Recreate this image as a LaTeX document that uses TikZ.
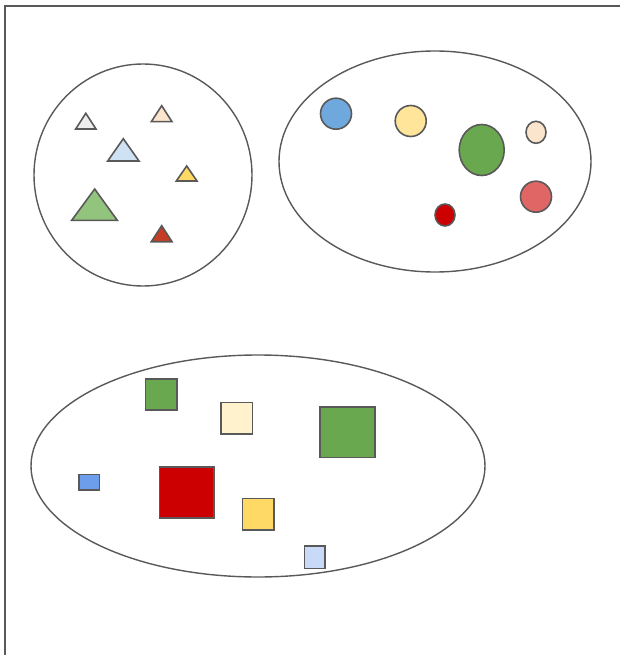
\documentclass[tikz,border=0pt]{standalone}
\usetikzlibrary{shapes.geometric}
\definecolor{edge}{HTML}{595959}
\definecolor{cgray}{HTML}{EEEEEE}
\definecolor{cpeach}{HTML}{FCE5CD}
\definecolor{cltblue}{HTML}{CFE2F3}
\definecolor{cyellow}{HTML}{FFD966}
\definecolor{cltgreen}{HTML}{93C47D}
\definecolor{credtri}{HTML}{C63D26}
\definecolor{cblue}{HTML}{6FA8DC}
\definecolor{cltyellow}{HTML}{FFE599}
\definecolor{cgreen}{HTML}{6AA84F}
\definecolor{cpink}{HTML}{E06666}
\definecolor{cred}{HTML}{CC0000}
\definecolor{ccream}{HTML}{FFF2CC}
\definecolor{csqblue}{HTML}{6D9EEB}
\definecolor{csqlt}{HTML}{C9DAF8}
\begin{document}
\begin{tikzpicture}[x=1pt,y=-1pt,
  group/.style={draw=edge,line width=1.4pt,ellipse,inner sep=0pt},
  blob/.style={draw=edge,line width=1.6pt,ellipse,inner sep=0pt},
  sq/.style={draw=edge,line width=1.6pt,rectangle,inner sep=0pt},
  tri/.style={draw=edge,line width=1.6pt,line join=miter}]
\useasboundingbox (0,0) rectangle (620,655);
\draw[draw=edge,line width=1.5pt] (5,660) -- (5,6) -- (625,6);
% groups
\node[group,minimum width=218pt,minimum height=222pt] (g1) at (143,175) {};
\node[group,minimum width=312pt,minimum height=221pt] (g2) at (435,161.5) {};
\node[group,minimum width=454pt,minimum height=222pt] (g3) at (258,466) {};
% triangles
\draw[tri,fill=cgray] (75.7,129) -- (85.8,113.3) -- (96,129) -- cycle;
\draw[tri,fill=cpeach] (151.3,121.7) -- (161.7,105.7) -- (172,121.7) -- cycle;
\draw[tri,fill=cltblue] (107.7,161) -- (123.3,138.7) -- (139,161) -- cycle;
\draw[tri,fill=cyellow] (176.3,181) -- (186.7,166) -- (197,181) -- cycle;
\draw[tri,fill=cltgreen] (71.7,220.3) -- (94.7,189) -- (117.3,220.3) -- cycle;
\draw[tri,fill=credtri] (151.3,241.7) -- (161.7,225.7) -- (172,241.7) -- cycle;
% circles
\node[blob,fill=cblue,minimum width=31pt,minimum height=31pt] (c1) at (336,113.7) {};
\node[blob,fill=cltyellow,minimum width=31pt,minimum height=31pt] (c2) at (410.7,121) {};
\node[blob,fill=cgreen,minimum width=45pt,minimum height=51pt] (c3) at (481.7,150) {};
\node[blob,fill=cpeach,minimum width=20pt,minimum height=22pt] (c4) at (536,132.3) {};
\node[blob,fill=cpink,minimum width=31pt,minimum height=31pt] (c5) at (536,196.7) {};
\node[blob,fill=cred,minimum width=20pt,minimum height=22pt] (c6) at (445,215) {};
% squares
\node[sq,fill=cgreen,minimum width=31.4pt,minimum height=31pt] (s1) at (161,394.2) {};
\node[sq,fill=ccream,minimum width=31.3pt,minimum height=31.3pt] (s2) at (236.7,418.3) {};
\node[sq,fill=cgreen,minimum width=55pt,minimum height=50.6pt] (s3) at (347.2,432) {};
\node[sq,fill=csqblue,minimum width=20.3pt,minimum height=15.7pt] (s4) at (89.2,482.2) {};
\node[sq,fill=cred,minimum width=54.7pt,minimum height=51pt] (s5) at (186.7,492.2) {};
\node[sq,fill=cyellow,minimum width=31.4pt,minimum height=31.3pt] (s6) at (258,514.3) {};
\node[sq,fill=csqlt,minimum width=20.4pt,minimum height=22.7pt] (s7) at (314.5,557.3) {};
\end{tikzpicture}
\end{document}
